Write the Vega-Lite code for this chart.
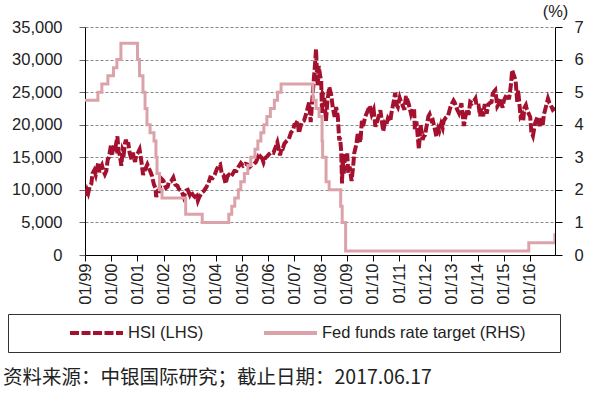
{
  "$schema": "https://vega.github.io/schema/vega-lite/v6.json",
  "width": 470,
  "height": 228,
  "autosize": {"type": "none"},
  "padding": {"left": 85, "top": 27, "right": 37, "bottom": 139},
  "background": "white",
  "config": {"view": {"stroke": null}, "font": "Liberation Sans"},
  "title": {"text": "资料来源：中银国际研究；截止日期：2017.06.17", "orient": "bottom", "anchor": "start", "frame": "group", "dx": -82, "offset": 16, "font": "Noto Sans CJK SC", "fontSize": 19.5, "fontWeight": "normal", "color": "#222"},
  "datasets": {
    "hsi": [
      {"d":"1999-01-04","v":10050},{"d":"1999-01-14","v":9100},{"d":"1999-02-01","v":9900},{"d":"1999-02-15","v":9500},{"d":"1999-03-10","v":10600},{"d":"1999-03-31","v":10940},{"d":"1999-04-15","v":12500},{"d":"1999-05-10","v":13000},{"d":"1999-05-31","v":12300},{"d":"1999-06-15","v":13100},{"d":"1999-07-05","v":14200},{"d":"1999-07-20","v":12700},{"d":"1999-08-05","v":13400},{"d":"1999-08-25","v":13800},{"d":"1999-09-15","v":12900},{"d":"1999-10-05","v":12400},{"d":"1999-10-25","v":12900},{"d":"1999-11-15","v":14700},{"d":"1999-12-01","v":15000},{"d":"1999-12-31","v":16960},
      {"d":"2000-01-12","v":15200},{"d":"2000-01-25","v":16300},{"d":"2000-02-15","v":16900},{"d":"2000-03-01","v":16500},{"d":"2000-03-28","v":18200},{"d":"2000-04-14","v":15800},{"d":"2000-04-28","v":15500},{"d":"2000-05-22","v":13700},{"d":"2000-06-10","v":16200},{"d":"2000-06-28","v":15800},{"d":"2000-07-15","v":17300},{"d":"2000-07-25","v":17700},{"d":"2000-08-10","v":16800},{"d":"2000-08-25","v":17300},{"d":"2000-09-15","v":15700},{"d":"2000-10-13","v":14600},{"d":"2000-10-31","v":15700},{"d":"2000-11-15","v":14800},{"d":"2000-11-30","v":14300},{"d":"2000-12-15","v":15300},
      {"d":"2001-01-10","v":15700},{"d":"2001-02-01","v":16200},{"d":"2001-02-20","v":14800},{"d":"2001-03-22","v":12300},{"d":"2001-04-10","v":12900},{"d":"2001-04-30","v":13400},{"d":"2001-05-20","v":13900},{"d":"2001-06-15","v":13200},{"d":"2001-07-05","v":12700},{"d":"2001-07-25","v":12100},{"d":"2001-08-20","v":10800},{"d":"2001-09-10","v":10300},{"d":"2001-09-21","v":8900},{"d":"2001-10-10","v":9800},{"d":"2001-10-31","v":9800},{"d":"2001-11-20","v":10900},{"d":"2001-12-05","v":11700},{"d":"2001-12-31","v":11400},
      {"d":"2002-01-15","v":10800},{"d":"2002-02-05","v":10300},{"d":"2002-02-28","v":10500},{"d":"2002-03-15","v":11200},{"d":"2002-04-15","v":11300},{"d":"2002-05-17","v":11900},{"d":"2002-06-15","v":10800},{"d":"2002-07-15","v":10600},{"d":"2002-07-30","v":10200},{"d":"2002-08-15","v":10000},{"d":"2002-09-15","v":9700},{"d":"2002-10-10","v":8900},{"d":"2002-11-15","v":9900},{"d":"2002-12-05","v":10000},{"d":"2002-12-31","v":9320},
      {"d":"2003-01-15","v":9800},{"d":"2003-02-15","v":9200},{"d":"2003-03-15","v":8900},{"d":"2003-04-10","v":9100},{"d":"2003-04-25","v":8350},{"d":"2003-05-15","v":8900},{"d":"2003-06-15","v":9500},{"d":"2003-07-15","v":9800},{"d":"2003-08-15","v":10300},{"d":"2003-09-15","v":10900},{"d":"2003-10-15","v":11900},{"d":"2003-11-15","v":11800},{"d":"2003-12-15","v":12300},
      {"d":"2004-01-15","v":13200},{"d":"2004-02-15","v":13800},{"d":"2004-03-01","v":13900},{"d":"2004-03-25","v":12400},{"d":"2004-04-15","v":12300},{"d":"2004-05-17","v":10970},{"d":"2004-06-10","v":12100},{"d":"2004-07-01","v":12300},{"d":"2004-07-25","v":12000},{"d":"2004-08-15","v":12300},{"d":"2004-09-15","v":12900},{"d":"2004-10-15","v":12900},{"d":"2004-11-15","v":13600},{"d":"2004-12-15","v":14100},
      {"d":"2005-01-15","v":13700},{"d":"2005-02-15","v":14000},{"d":"2005-03-15","v":13900},{"d":"2005-04-15","v":13500},{"d":"2005-05-15","v":13800},{"d":"2005-06-15","v":13900},{"d":"2005-07-15","v":14300},{"d":"2005-08-10","v":15000},{"d":"2005-08-25","v":14700},{"d":"2005-09-15","v":15100},{"d":"2005-10-10","v":14800},{"d":"2005-10-28","v":14200},{"d":"2005-11-20","v":14900},{"d":"2005-12-15","v":15100},
      {"d":"2006-01-15","v":15500},{"d":"2006-02-15","v":15800},{"d":"2006-03-15","v":15700},{"d":"2006-04-15","v":16600},{"d":"2006-05-08","v":17300},{"d":"2006-06-14","v":15300},{"d":"2006-07-10","v":16500},{"d":"2006-07-25","v":16400},{"d":"2006-08-15","v":17100},{"d":"2006-09-15","v":17500},{"d":"2006-10-15","v":17800},{"d":"2006-11-15","v":18800},{"d":"2006-12-15","v":19200},{"d":"2006-12-31","v":19960},
      {"d":"2007-01-15","v":20000},{"d":"2007-02-15","v":20600},{"d":"2007-03-05","v":18700},{"d":"2007-03-30","v":19800},{"d":"2007-04-15","v":20400},{"d":"2007-05-15","v":20600},{"d":"2007-06-15","v":21700},{"d":"2007-07-25","v":23400},{"d":"2007-08-17","v":20400},{"d":"2007-09-10","v":24100},{"d":"2007-09-30","v":27100},{"d":"2007-10-15","v":29100},{"d":"2007-10-30","v":31600},{"d":"2007-11-10","v":28300},{"d":"2007-11-22","v":26000},{"d":"2007-12-07","v":29000},{"d":"2007-12-28","v":27400},
      {"d":"2008-01-10","v":26800},{"d":"2008-01-22","v":21700},{"d":"2008-02-01","v":24800},{"d":"2008-02-20","v":24500},{"d":"2008-03-17","v":20600},{"d":"2008-04-05","v":23500},{"d":"2008-05-02","v":25800},{"d":"2008-05-30","v":24500},{"d":"2008-06-20","v":22600},{"d":"2008-07-16","v":21200},{"d":"2008-08-05","v":22700},{"d":"2008-08-29","v":21300},{"d":"2008-09-18","v":17600},{"d":"2008-09-30","v":18000},{"d":"2008-10-15","v":16000},{"d":"2008-10-27","v":11000},{"d":"2008-11-05","v":14800},{"d":"2008-11-20","v":12500},{"d":"2008-12-10","v":15500},{"d":"2008-12-31","v":14400},
      {"d":"2009-01-07","v":15600},{"d":"2009-01-22","v":12600},{"d":"2009-02-10","v":13600},{"d":"2009-03-09","v":11350},{"d":"2009-03-31","v":13600},{"d":"2009-04-15","v":15600},{"d":"2009-05-15","v":17000},{"d":"2009-06-05","v":18800},{"d":"2009-07-10","v":17300},{"d":"2009-07-31","v":20600},{"d":"2009-08-17","v":19800},{"d":"2009-09-15","v":21200},{"d":"2009-10-15","v":22000},{"d":"2009-11-17","v":22900},{"d":"2009-12-15","v":21600},
      {"d":"2010-01-11","v":22300},{"d":"2010-02-05","v":19700},{"d":"2010-03-15","v":21000},{"d":"2010-04-15","v":22200},{"d":"2010-05-25","v":19000},{"d":"2010-06-15","v":20200},{"d":"2010-07-05","v":19900},{"d":"2010-07-30","v":21000},{"d":"2010-08-31","v":20500},{"d":"2010-09-15","v":21700},{"d":"2010-10-15","v":23400},{"d":"2010-11-08","v":24900},{"d":"2010-11-30","v":23000},{"d":"2010-12-15","v":22700},
      {"d":"2011-01-10","v":24100},{"d":"2011-01-31","v":23400},{"d":"2011-02-15","v":23100},{"d":"2011-03-16","v":22300},{"d":"2011-04-08","v":24400},{"d":"2011-05-15","v":23200},{"d":"2011-06-16","v":21700},{"d":"2011-07-08","v":22500},{"d":"2011-07-30","v":22400},{"d":"2011-08-09","v":19300},{"d":"2011-08-31","v":20500},{"d":"2011-09-23","v":17700},{"d":"2011-10-04","v":16250},{"d":"2011-10-28","v":20000},{"d":"2011-11-25","v":17700},{"d":"2011-12-15","v":18300},{"d":"2011-12-31","v":18430},
      {"d":"2012-01-15","v":19500},{"d":"2012-02-15","v":21300},{"d":"2012-03-02","v":21600},{"d":"2012-03-30","v":20600},{"d":"2012-04-15","v":20700},{"d":"2012-05-15","v":19300},{"d":"2012-06-04","v":18200},{"d":"2012-06-30","v":19400},{"d":"2012-07-15","v":19000},{"d":"2012-08-10","v":20100},{"d":"2012-08-31","v":19500},{"d":"2012-09-15","v":20600},{"d":"2012-10-15","v":21100},{"d":"2012-11-15","v":21400},{"d":"2012-12-15","v":22600},
      {"d":"2013-01-15","v":23400},{"d":"2013-01-30","v":23700},{"d":"2013-02-15","v":23400},{"d":"2013-03-15","v":22500},{"d":"2013-04-15","v":21800},{"d":"2013-05-20","v":23300},{"d":"2013-06-24","v":19800},{"d":"2013-07-15","v":21300},{"d":"2013-08-15","v":22400},{"d":"2013-08-28","v":21500},{"d":"2013-09-20","v":23500},{"d":"2013-10-15","v":23300},{"d":"2013-11-15","v":23700},{"d":"2013-12-02","v":24000},{"d":"2013-12-20","v":22800},
      {"d":"2014-01-15","v":22900},{"d":"2014-02-05","v":21300},{"d":"2014-02-20","v":22500},{"d":"2014-03-20","v":21300},{"d":"2014-04-10","v":23200},{"d":"2014-05-08","v":21700},{"d":"2014-05-30","v":23100},{"d":"2014-06-15","v":23300},{"d":"2014-07-15","v":23500},{"d":"2014-07-30","v":24700},{"d":"2014-08-20","v":25100},{"d":"2014-09-05","v":25300},{"d":"2014-10-03","v":22800},{"d":"2014-10-20","v":23100},{"d":"2014-11-15","v":24000},{"d":"2014-12-15","v":22600},{"d":"2014-12-31","v":23600},
      {"d":"2015-01-15","v":24000},{"d":"2015-02-15","v":24700},{"d":"2015-03-15","v":23900},{"d":"2015-04-10","v":26000},{"d":"2015-04-28","v":28400},{"d":"2015-05-15","v":27800},{"d":"2015-06-15","v":26800},{"d":"2015-07-08","v":23500},{"d":"2015-07-20","v":25300},{"d":"2015-08-24","v":21250},{"d":"2015-09-15","v":21600},{"d":"2015-09-29","v":20550},{"d":"2015-10-15","v":22600},{"d":"2015-11-05","v":23000},{"d":"2015-11-20","v":22300},{"d":"2015-12-15","v":21700},
      {"d":"2016-01-05","v":21200},{"d":"2016-01-21","v":18900},{"d":"2016-02-12","v":18300},{"d":"2016-03-15","v":20300},{"d":"2016-04-15","v":21200},{"d":"2016-05-15","v":19800},{"d":"2016-06-10","v":21000},{"d":"2016-06-27","v":19900},{"d":"2016-07-15","v":21600},{"d":"2016-08-15","v":22900},{"d":"2016-09-09","v":24000},{"d":"2016-09-30","v":23300},{"d":"2016-10-15","v":23100},{"d":"2016-11-15","v":22300},{"d":"2016-12-16","v":22600}
    ],
    "ffr": [
      {"d":"1999-01-01","r":4.75},{"d":"1999-06-30","r":5.0},{"d":"1999-08-24","r":5.25},{"d":"1999-11-16","r":5.5},{"d":"2000-02-02","r":5.75},{"d":"2000-03-21","r":6.0},{"d":"2000-05-16","r":6.5},{"d":"2001-01-03","r":6.0},{"d":"2001-01-31","r":5.5},{"d":"2001-03-20","r":5.0},{"d":"2001-04-18","r":4.5},{"d":"2001-05-15","r":4.0},{"d":"2001-06-27","r":3.75},{"d":"2001-08-21","r":3.5},{"d":"2001-09-17","r":3.0},{"d":"2001-10-02","r":2.5},{"d":"2001-11-06","r":2.0},{"d":"2001-12-11","r":1.75},{"d":"2002-11-06","r":1.25},{"d":"2003-06-25","r":1.0},{"d":"2004-06-30","r":1.25},{"d":"2004-08-10","r":1.5},{"d":"2004-09-21","r":1.75},{"d":"2004-11-10","r":2.0},{"d":"2004-12-14","r":2.25},{"d":"2005-02-02","r":2.5},{"d":"2005-03-22","r":2.75},{"d":"2005-05-03","r":3.0},{"d":"2005-06-30","r":3.25},{"d":"2005-08-09","r":3.5},{"d":"2005-09-20","r":3.75},{"d":"2005-11-01","r":4.0},{"d":"2005-12-13","r":4.25},{"d":"2006-01-31","r":4.5},{"d":"2006-03-28","r":4.75},{"d":"2006-05-10","r":5.0},{"d":"2006-06-29","r":5.25},{"d":"2007-09-18","r":4.75},{"d":"2007-10-31","r":4.5},{"d":"2007-12-11","r":4.25},{"d":"2008-01-22","r":3.5},{"d":"2008-01-30","r":3.0},{"d":"2008-03-18","r":2.25},{"d":"2008-04-30","r":2.0},{"d":"2008-10-08","r":1.5},{"d":"2008-10-29","r":1.0},{"d":"2008-12-16","r":0.125},{"d":"2015-12-16","r":0.375},{"d":"2016-12-14","r":0.625},{"d":"2016-12-16","r":0.625}
    ]
  },
  "layer": [
    {
      "data": {"name": "hsi"},
      "mark": {"type": "line", "strokeWidth": 4, "clip": true},
      "encoding": {
        "x": {"field": "d", "type": "temporal",
          "scale": {"type": "utc", "domain": [{"year": 1999, "month": 1, "date": 1, "utc": true}, {"year": 2016, "month": 12, "date": 16, "utc": true}]},
          "axis": {"format": "%m/%y", "tickCount": {"interval": "year", "step": 1}, "labelAngle": -90, "labelFontSize": 16.5, "labelPadding": 2, "tickSize": 6, "tickColor": "#000", "domainColor": "#000", "grid": false, "title": null, "labelColor": "#222", "labelOverlap": false, "labelBound": false, "labelFlush": false}},
        "y": {"field": "v", "type": "quantitative",
          "scale": {"domain": [0, 35000], "nice": false},
          "axis": {"values": [0, 5000, 10000, 15000, 20000, 25000, 30000, 35000], "format": ",d", "grid": true, "gridColor": "#888", "gridDash": [3, 2], "gridWidth": 1, "tickSize": 6, "tickColor": "#666", "domainColor": "#000", "labelFontSize": 16.5, "labelPadding": 17, "title": null, "labelColor": "#222"}},
        "color": {"datum": "HSI (LHS)", "type": "nominal",
          "scale": {"domain": ["HSI (LHS)", "Fed funds rate target (RHS)"], "range": ["#A3112F", "#DBA3A9"]},
          "legend": {"orient": "none", "legendX": -77, "legendY": 287, "direction": "horizontal", "columns": 2, "columnPadding": 58, "title": "HHHH", "titleColor": "rgba(0,0,0,0)", "titleOrient": "left", "titlePadding": 2, "titleFontSize": 16.5, "titleFontWeight": "normal", "labelFontSize": 16.5, "labelColor": "#222", "labelLimit": 400, "labelOffset": 3, "symbolType": "stroke", "symbolSize": 2809, "symbolStrokeWidth": 4, "clipHeight": 18, "padding": 10, "strokeColor": "#333", "fillColor": "white", "cornerRadius": 0, "labelExpr": "datum.label == 'Fed funds rate target (RHS)' ? datum.label + '\u2800\u2800' : datum.label"}},
        "strokeDash": {"datum": "HSI (LHS)", "type": "nominal",
          "scale": {"domain": ["HSI (LHS)", "Fed funds rate target (RHS)"], "range": [[9, 2.5], [1, 0]]},
          "legend": {"orient": "none", "legendX": -77, "legendY": 287, "direction": "horizontal", "columns": 2, "columnPadding": 58, "title": "HHHH", "titleColor": "rgba(0,0,0,0)", "titleOrient": "left", "titlePadding": 2, "titleFontSize": 16.5, "titleFontWeight": "normal", "labelFontSize": 16.5, "labelColor": "#222", "labelLimit": 400, "labelOffset": 3, "symbolType": "stroke", "symbolSize": 2809, "symbolStrokeWidth": 4, "clipHeight": 18, "padding": 10, "strokeColor": "#333", "fillColor": "white", "cornerRadius": 0, "labelExpr": "datum.label == 'Fed funds rate target (RHS)' ? datum.label + '\u2800\u2800' : datum.label"}}
      }
    },
    {
      "data": {"name": "ffr"},
      "mark": {"type": "line", "interpolate": "step-after", "strokeWidth": 3, "clip": true},
      "encoding": {
        "x": {"field": "d", "type": "temporal"},
        "y": {"field": "r", "type": "quantitative",
          "scale": {"domain": [0, 7], "nice": false},
          "axis": {"orient": "right", "values": [0, 1, 2, 3, 4, 5, 6, 7], "grid": false, "tickSize": 7, "tickColor": "#000", "domainColor": "#000", "labelPadding": 12, "labelFontSize": 16.5, "labelColor": "#222", "title": "(%)", "titleAngle": 0, "titleX": 0, "titleY": -16, "titleAlign": "center", "titleBaseline": "middle", "titleFontSize": 16.5, "titleFontWeight": "normal", "titleColor": "#222"}},
        "color": {"datum": "Fed funds rate target (RHS)", "type": "nominal"},
        "strokeDash": {"datum": "Fed funds rate target (RHS)", "type": "nominal"}
      }
    }
  ],
  "resolve": {"scale": {"y": "independent"}}
}
